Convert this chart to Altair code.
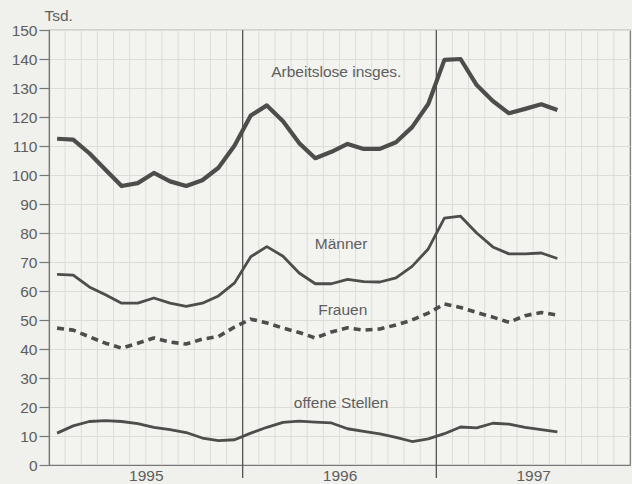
import altair as alt
import pandas as pd

# Monthly values, Jan 1995 - Aug 1997 (thousands)
arbeitslose = [112.5, 112.2, 107.5, 101.8, 96.2, 97.2, 100.7, 97.8, 96.2, 98.2, 102.5, 110.2,
               120.5, 124.0, 118.5, 111.0, 105.8, 108.0, 110.7, 109.0, 109.0, 111.3, 116.5, 124.5,
               139.7, 140.0, 131.0, 125.5, 121.3, 122.8, 124.4, 122.4]
maenner = [65.7, 65.5, 61.4, 58.7, 55.8, 55.8, 57.6, 55.8, 54.7, 55.8, 58.3, 62.8,
           71.8, 75.3, 72.0, 66.2, 62.5, 62.5, 64.0, 63.2, 63.1, 64.5, 68.5, 74.5,
           85.1, 85.8, 80.0, 75.2, 72.8, 72.8, 73.1, 71.2]
frauen = [47.2, 46.5, 44.2, 42.0, 40.3, 42.0, 43.8, 42.4, 41.7, 43.4, 44.3, 47.6,
          50.3, 49.0, 47.2, 45.7, 43.8, 45.9, 47.3, 46.5, 46.9, 48.3, 50.0, 52.4,
          55.5, 54.3, 52.6, 51.0, 49.2, 51.5, 52.6, 51.7]
offene = [11.0, 13.5, 15.0, 15.3, 15.0, 14.3, 13.0, 12.2, 11.2, 9.3, 8.4, 8.7,
          11.0, 13.0, 14.7, 15.1, 14.8, 14.5, 12.5, 11.6, 10.7, 9.5, 8.1, 9.0,
          10.8, 13.1, 12.8, 14.4, 14.1, 13.0, 12.2, 11.4]

years = ["1995", "1996", "1997"]
series_names = ["Arbeitslose insges.", "Männer", "Frauen", "offene Stellen"]
# label anchor positions (month position, value)
label_x = [17.8, 18.1, 18.2, 18.1]
label_y = [135.5, 76.2, 53.4, 21.4]

W, H = 581, 435
INK = "#4d4d4b"
TXT = "#5e5e5e"
GRID = "#dcdcd8"
FS = 15.5

month_pos = [i + 0.5 for i in range(len(arbeitslose))]

xscale = alt.Scale(domain=[0, 36], nice=False, zero=False)
yscale = alt.Scale(domain=[0, 150], nice=False)

xaxis = alt.Axis(values=[6, 18, 30],
                 labelExpr="['" + "','".join(years) + "'][floor(datum.value/12)]",
                 ticks=False, grid=False, title=None, labelPadding=3,
                 labelFontSize=FS, labelColor=TXT, labelFont="Liberation Sans",
                 domainColor="#777777", domainWidth=1.2)
yaxis = alt.Axis(values=list(range(0, 151, 10)), grid=True, gridColor=GRID, gridWidth=1,
                 tickSize=10, tickColor="#777777", tickWidth=1.2, labelPadding=2,
                 labelFontSize=FS, labelColor=TXT, labelFont="Liberation Sans",
                 domainColor="#777777", domainWidth=1.2,
                 title="Tsd.", titleAngle=0, titleAlign="left", titleBaseline="middle",
                 titleX=-5, titleY=-15, titleFontWeight="normal", titleFontSize=FS,
                 titleColor=TXT, titleFont="Liberation Sans")

grid_df = pd.DataFrame({"m": [m for m in range(1, 36) if m % 12 != 0]})
grid = alt.Chart(grid_df).mark_rule(color=GRID, strokeWidth=1).encode(
    x=alt.X("m:Q", scale=xscale, axis=xaxis),
    y=alt.value(0), y2=alt.value(H))

sep_df = pd.DataFrame({"m": [12, 24]})
seps = alt.Chart(sep_df).mark_rule(color="#555555", strokeWidth=1.3).encode(
    x=alt.X("m:Q", scale=xscale, axis=xaxis),
    y=alt.value(0), y2=alt.value(H + 13))

styles = [
    (arbeitslose, 4.2, None),
    (maenner, 2.8, None),
    (frauen, 3.6, [7, 5]),
    (offene, 2.8, None),
]
layers = [grid, seps]
for name, (vals, sw, dash) in zip(series_names, styles):
    df = pd.DataFrame({"m": month_pos, "v": vals, "s": name})
    kw = dict(color=INK, strokeWidth=sw, strokeJoin="round", strokeCap="butt")
    if dash:
        kw["strokeDash"] = dash
    layers.append(alt.Chart(df).mark_line(**kw).encode(
        x=alt.X("m:Q", scale=xscale, axis=xaxis),
        y=alt.Y("v:Q", scale=yscale, axis=yaxis)))

lab_df = pd.DataFrame({"m": label_x, "v": label_y, "t": series_names})
labels = alt.Chart(lab_df).mark_text(fontSize=FS, color=TXT, font="Liberation Sans",
                                     align="center", baseline="middle").encode(
    x=alt.X("m:Q", scale=xscale, axis=xaxis),
    y=alt.Y("v:Q", scale=yscale, axis=yaxis),
    text="t:N")
layers.append(labels)

chart = alt.layer(*layers).properties(
    width=W, height=H,
    autosize=alt.AutoSizeParams(type="none"),
    padding={"left": 49, "top": 30, "right": 2, "bottom": 19},
    background="#f0f0ec",
).configure_view(stroke="#777777", strokeWidth=1.2, fill="#f3f3f0")

chart.save("out.html", embed_options={"renderer": "svg", "actions": False})
